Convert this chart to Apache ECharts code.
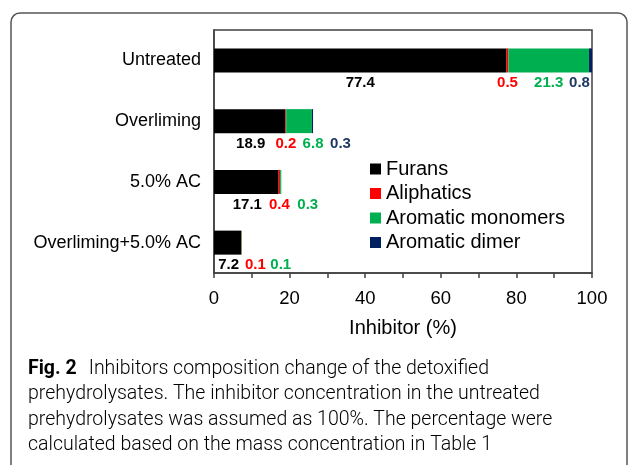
<!DOCTYPE html>
<html>
<head>
<meta charset="utf-8">
<script src="https://cdn.jsdelivr.net/npm/echarts@6/dist/echarts.min.js"></script>
<style>
html,body{margin:0;padding:0;background:#fff;}
#c{width:630px;height:465px;}
</style>
</head>
<body>
<div id="c"></div>
<script>
const categories = ['Untreated', 'Overliming', '5.0% AC', 'Overliming+5.0% AC'];
const furans = [77.4, 18.9, 17.1, 7.2];
const aliphatics = [0.5, 0.2, 0.4, 0.1];
const aromaticMonomers = [21.3, 6.8, 0.3, 0.1];
const aromaticDimer = [0.8, 0.3, 0, 0];
const seriesNames = ['Furans', 'Aliphatics', 'Aromatic monomers', 'Aromatic dimer'];
const xTickLabels = ['0', '20', '40', '60', '80', '100'];

// label horizontal nudges (px) so the value labels don't collide
const labelNudge = [
  [0, 1, 1, 1],
  [0, 0, 0, 14],
  [0, 14, 27, 39],
  [-11, 28, 0, 0]
];
const colors = ['#000000', '#ff0000', '#00b050', '#002060'];
const labelColors = ['#000000', '#ff0000', '#00b050', '#1f3864'];
const seriesValues = [furans, aliphatics, aromaticMonomers, aromaticDimer];

const chart = echarts.init(document.getElementById('c'), null, {renderer: 'canvas'});
const FONT = 'Liberation Sans, Arial, sans-serif';
const CAP = 'Roboto, Noto Sans, sans-serif';

const series = seriesValues.map((vals, si) => ({
  name: seriesNames[si],
  type: 'bar',
  stack: 'total',
  barWidth: 24,
  itemStyle: {color: colors[si]},
  label: {
    show: true,
    position: 'bottom',
    distance: 3,
    color: labelColors[si],
    fontFamily: FONT,
    fontWeight: 'bold',
    fontSize: 15,
    formatter: p => p.value ? p.value.toFixed(1) : ''
  },
  data: vals.map((v, ci) => ({value: v, label: {offset: [labelNudge[si][ci], 0], show: v !== 0}}))
}));

chart.setOption({
  animation: false,
  backgroundColor: '#fff',
  grid: {left: 214, right: 38, top: 30, height: 243, show: true, borderColor: '#404040', borderWidth: 1.5, backgroundColor: 'transparent'},
  legend: {
    orient: 'vertical', left: 370, top: 159, padding: 0, itemGap: 4.5,
    icon: 'rect', itemWidth: 11, itemHeight: 11,
    data: seriesNames,
    textStyle: {fontFamily: FONT, fontSize: 20, color: '#000', lineHeight: 20}
  },
  xAxis: {
    type: 'value', min: 0, max: 100, interval: 10,
    name: 'Inhibitor (%)', nameLocation: 'middle', nameGap: 45,
    nameTextStyle: {fontFamily: FONT, fontSize: 20, color: '#000'},
    axisLine: {show: true, lineStyle: {color: '#404040', width: 1.5}},
    axisTick: {show: true, length: 5, lineStyle: {color: '#404040', width: 1.5}},
    splitLine: {show: false},
    axisLabel: {
      margin: 16, fontFamily: FONT, fontSize: 18.5, color: '#000',
      formatter: v => (v % 20 === 0 ? xTickLabels[v / 20] : '')
    }
  },
  yAxis: {
    type: 'category', inverse: true, data: categories,
    axisLine: {show: true, lineStyle: {color: '#404040', width: 1.5}},
    axisTick: {show: false},
    axisLabel: {margin: 13, fontFamily: FONT, fontSize: 18, color: '#000'}
  },
  series: series,
  graphic: [
    {type: 'rect', shape: {x: 11, y: 13, width: 616, height: 520, r: 9}, style: {fill: 'none', stroke: '#555', lineWidth: 1.5}, silent: true},
    {type: 'text', left: 28, top: 359, style: {
      text: '{b|Fig. 2}{n|Inhibitors composition change of the detoxified}\n{n|prehydrolysates. The inhibitor concentration in the untreated}\n{n|prehydrolysates was assumed as 100%. The percentage were}\n{n|calculated based on the mass concentration in Table }{l|1}',
      rich: {
        b: {fontFamily: CAP, fontWeight: 'bold', fontSize: 19.5, color: '#231f20', lineHeight: 25.5, padding: [0, 12, 0, 0]},
        n: {fontFamily: CAP, fontWeight: 300, fontSize: 19.5, color: '#231f20', lineHeight: 25.5},
        l: {fontFamily: CAP, fontWeight: 300, fontSize: 19.5, color: '#3a63d8', lineHeight: 25.5}
      }
    }}
  ]
});
</script>
</body>
</html>
